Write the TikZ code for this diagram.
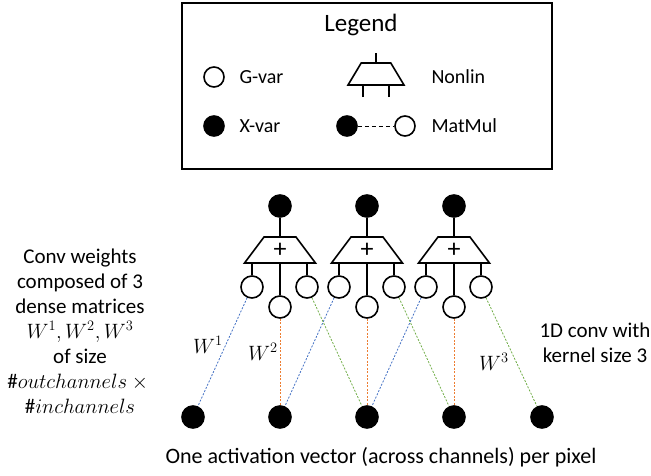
\documentclass[tikz,border=0pt]{standalone}
\usepackage{fontspec}
\setmainfont{Carlito}
\usetikzlibrary{shapes.geometric}
\definecolor{wblue}{HTML}{4472C4}
\definecolor{worange}{HTML}{ED7D31}
\definecolor{wgreen}{HTML}{70AD47}

\begin{document}
\begin{tikzpicture}[
  xvar/.style={circle, fill=black, draw=black, line width=1.6pt,
    minimum size=22pt, inner sep=0pt},
  gvar/.style={circle, fill=white, draw=black, line width=1.6pt,
    minimum size=22pt, inner sep=0pt},
  nonlin/.style={trapezium, draw=black, line width=1.6pt, inner sep=0pt,
    trapezium angle=61, trapezium stretches=true,
    minimum width=71pt, minimum height=26pt},
  wire/.style={line width=1.2pt},
  wdash/.style={line width=0.8pt, dash pattern=on 2pt off 1.5pt},
  txt/.style={font=\fontsize{21}{25}\selectfont, align=center},
  ltxt/.style={font=\fontsize{20}{24}\selectfont, anchor=west}
  ]

  \useasboundingbox (0pt,0pt) rectangle (651pt,-475pt);

  %% legend
  \node[draw, line width=1.8pt, minimum width=370pt, minimum height=166pt,
    inner sep=0pt] (legend) at (367pt,-86pt) {};
  \node[font=\fontsize{25}{30}\selectfont] (ltitle) at (361pt,-25pt) {Legend};
  \node[gvar, minimum size=20pt] (lg) at (214pt,-77pt) {};
  \node[ltxt] (lgtxt) at (236pt,-77pt) {G-var};
  \node[xvar, minimum size=20pt] (lx) at (214pt,-126pt) {};
  \node[ltxt] (lxtxt) at (236pt,-126pt) {X-var};

  \node[nonlin, txt, trapezium angle=68, minimum width=56pt,
    minimum height=22pt] (lnl) at (376pt,-74pt) {\phantom{+}};
  \coordinate (lstem) at (376pt,-53pt);
  \coordinate (lleg1) at (363pt,-97pt);
  \coordinate (lleg2) at (389pt,-97pt);
  \draw[wire] (lnl) -- (lstem);
  \draw[wire] (lleg1) -- (lleg1 |- lnl.south);
  \draw[wire] (lleg2) -- (lleg2 |- lnl.south);
  \node[ltxt] (lnltxt) at (428pt,-77pt) {Nonlin};

  \node[xvar, minimum size=20pt] (lmx) at (347pt,-126pt) {};
  \node[gvar, minimum size=20pt] (lmg) at (405pt,-126pt) {};
  \draw[line width=1pt, dash pattern=on 4pt off 3pt] (lmx) -- (lmg);
  \node[ltxt] (lmtxt) at (428pt,-126pt) {MatMul};

  %% output pixels and nonlins
  \node[xvar] (top1) at (280pt,-206pt) {};
  \node[xvar] (top2) at (367pt,-206pt) {};
  \node[xvar] (top3) at (454pt,-206pt) {};

  \node[nonlin, font=\fontsize{26}{26}\selectfont] (nl1) at (280pt,-250pt) {+};
  \node[nonlin, font=\fontsize{26}{26}\selectfont] (nl2) at (367pt,-250pt) {+};
  \node[nonlin, font=\fontsize{26}{26}\selectfont] (nl3) at (454pt,-250pt) {+};

  \node[gvar] (ga1) at (252pt,-287pt) {};
  \node[gvar] (gb1) at (280pt,-307pt) {};
  \node[gvar] (gc1) at (307pt,-287pt) {};
  \node[gvar] (ga2) at (339pt,-287pt) {};
  \node[gvar] (gb2) at (367pt,-307pt) {};
  \node[gvar] (gc2) at (394pt,-287pt) {};
  \node[gvar] (ga3) at (426pt,-287pt) {};
  \node[gvar] (gb3) at (454pt,-307pt) {};
  \node[gvar] (gc3) at (481pt,-287pt) {};

  \draw[wire] (top1) -- (nl1);
  \draw[wire] (top2) -- (nl2);
  \draw[wire] (top3) -- (nl3);
  \draw[wire] (ga1) -- (ga1 |- nl1.south);
  \draw[wire] (gb1) -- (nl1);
  \draw[wire] (gc1) -- (gc1 |- nl1.south);
  \draw[wire] (ga2) -- (ga2 |- nl2.south);
  \draw[wire] (gb2) -- (nl2);
  \draw[wire] (gc2) -- (gc2 |- nl2.south);
  \draw[wire] (ga3) -- (ga3 |- nl3.south);
  \draw[wire] (gb3) -- (nl3);
  \draw[wire] (gc3) -- (gc3 |- nl3.south);

  %% input pixels
  \node[xvar] (bot1) at (193pt,-417pt) {};
  \node[xvar] (bot2) at (280pt,-417pt) {};
  \node[xvar] (bot3) at (367pt,-417pt) {};
  \node[xvar] (bot4) at (454pt,-417pt) {};
  \node[xvar] (bot5) at (542pt,-417pt) {};

  \draw[wdash, wblue] (ga1) -- (bot1);
  \draw[wdash, wblue] (ga2) -- (bot2);
  \draw[wdash, wblue] (ga3) -- (bot3);
  \draw[wdash, worange] (gb1) -- (bot2);
  \draw[wdash, worange] (gb2) -- (bot3);
  \draw[wdash, worange] (gb3) -- (bot4);
  \draw[wdash, wgreen] (gc1) -- (bot3);
  \draw[wdash, wgreen] (gc2) -- (bot4);
  \draw[wdash, wgreen] (gc3) -- (bot5);

  \node[txt] (w1) at (208pt,-345pt) {$W^1$};
  \node[txt] (w2) at (263pt,-352pt) {$W^2$};
  \node[txt] (w3) at (494pt,-362pt) {$W^3$};

  %% side texts
  \node[txt] (weights) at (80pt,-331pt) {Conv weights\\composed of 3\\
    dense matrices\\$W^1,W^2,W^3$\\of size\\$\#outchannels\times{}$\\
    $\#inchannels$};
  \node[txt] (conv) at (595pt,-343pt) {1D conv with\\kernel size 3};
  \node[txt, font=\fontsize{22}{26}\selectfont] (pixels) at (381pt,-457pt)
    {One activation vector (across channels) per pixel};

\end{tikzpicture}
\end{document}
